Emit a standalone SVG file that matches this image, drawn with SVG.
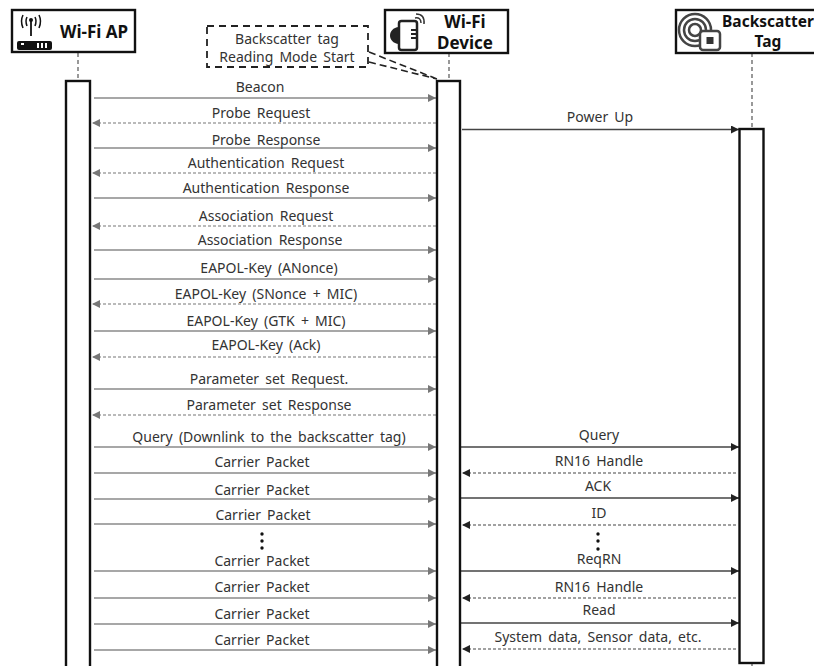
<svg xmlns="http://www.w3.org/2000/svg" width="814" height="666" viewBox="0 0 814 666">
<style>
text{font-family:"Noto Sans","Open Sans",sans-serif;fill:#333;font-size:14px;text-anchor:middle;word-spacing:2.5px}
.h{font-weight:700;font-size:17px;fill:#111;word-spacing:0}
.box{fill:#fff;stroke:#111;stroke-width:2.4}
.bar{fill:#fff;stroke:#111;stroke-width:2.4}
.life{stroke:#555;stroke-width:1.2;stroke-dasharray:4 3;fill:none}
.g{stroke:#8a8a8a;stroke-width:1.3;fill:none}
.gd{stroke:#777;stroke-width:1.2;stroke-dasharray:3 2;fill:none}
.k{stroke:#444;stroke-width:1.3;fill:none}
.kd{stroke:#444;stroke-width:1.2;stroke-dasharray:3 2;fill:none}
</style>
<defs>
<marker id="ag" markerUnits="userSpaceOnUse" markerWidth="9" markerHeight="8" refX="8" refY="4" orient="auto"><path d="M0 0L8 4L0 8Z" fill="#777"/></marker>
<marker id="ak" markerUnits="userSpaceOnUse" markerWidth="9" markerHeight="8" refX="8" refY="4" orient="auto"><path d="M0 0L8 4L0 8Z" fill="#222"/></marker>
</defs>
<rect width="814" height="666" fill="#fff"/>
<g id="connectors">
<path class="life" d="M78 53V81M449 53V81M752 53V129M752 663V666"/>
<g marker-end="url(#ag)">
<path class="g" d="M94 98H436"/><path class="gd" d="M436 123H92"/>
<path class="g" d="M94 148H436"/><path class="gd" d="M436 173H92"/>
<path class="g" d="M94 198H436"/><path class="gd" d="M436 226H92"/>
<path class="g" d="M94 250H436"/><path class="g" d="M94 279H436"/>
<path class="gd" d="M436 304H92"/><path class="g" d="M94 331H436"/>
<path class="gd" d="M436 357H92"/><path class="g" d="M94 389H436"/>
<path class="gd" d="M436 415H92"/><path class="g" d="M94 447H436"/>
<path class="g" d="M94 473H436"/><path class="g" d="M94 499H436"/>
<path class="g" d="M94 524H436"/><path class="g" d="M94 571H436"/>
<path class="g" d="M94 598H436"/><path class="g" d="M94 624H436"/>
<path class="g" d="M94 650H436"/>
</g>
<g marker-end="url(#ak)">
<path class="k" d="M462 129.500H739"/><path class="k" d="M461 447H739"/>
<path class="kd" d="M736 473H462"/><path class="k" d="M461 498H739"/>
<path class="kd" d="M736 525H462"/><path class="k" d="M461 571H739"/>
<path class="kd" d="M736 598H462"/><path class="k" d="M461 623H739"/>
<path class="kd" d="M736 649H462"/>
</g>
<path d="M369 52L437 79M369 62L437 79" fill="none" stroke="#222" stroke-width="1.600" stroke-dasharray="7 4"/>
</g>
<g id="bars">
<rect class="bar" x="66" y="81" width="24" height="590"/>
<rect class="bar" x="437" y="81" width="23" height="590"/>
<rect class="bar" x="739.500" y="129" width="24" height="534"/>
</g>
<g id="wifi-ap">
<rect class="box" x="12" y="10" width="123" height="42"/>
<path d="M31 20V36" stroke="#111" stroke-width="1.800"/><circle cx="31" cy="20" r="2" fill="#111"/>
<path d="M27 17Q25 21 27 26M35 17Q37 21 35 26M23 15Q20 21 23 28M39 15Q42 21 39 28" stroke="#111" stroke-width="1.500" fill="none"/>
<rect x="17" y="41" width="35" height="9" rx="2" fill="#111"/><path d="M21 44h3M38 43v5M42 43v5M46 43v5" stroke="#fff" stroke-width="2"/>
<text class="h" x="94" y="38">Wi-Fi AP</text>
</g>
<g id="note">
<rect x="207" y="26" width="161" height="41" fill="#fff" stroke="#222" stroke-width="1.800" stroke-dasharray="7 5"/>
<text x="287" y="44">Backscatter tag</text>
<text x="287" y="62">Reading Mode Start</text>
</g>
<g id="wifi-device">
<rect class="box" x="385" y="10" width="123" height="43"/>
<rect x="399" y="21" width="18" height="29" rx="2.500" fill="#fff" stroke="#222" stroke-width="2.500"/>
<path d="M399 27C387 28 387 43 399 44Z" fill="#222"/><path d="M411 30h7M411 34h7M411 38h7" stroke="#222" stroke-width="2"/>
<path d="M415 18Q421 17 421 23M416 14Q425 14 424 24" stroke="#333" stroke-width="1.500" fill="none"/>
<text class="h" x="465" y="28">Wi-Fi</text><text class="h" x="465" y="49">Device</text>
</g>
<g id="backscatter-tag">
<rect class="box" x="676" y="10" width="150" height="43"/>
<circle cx="695" cy="30" r="16" fill="none" stroke="#444" stroke-width="2.500"/><circle cx="695" cy="30" r="11" fill="none" stroke="#444" stroke-width="2.500"/><circle cx="695" cy="30" r="6" fill="none" stroke="#444" stroke-width="2.500"/>
<rect x="700" y="31" width="20" height="19" rx="3" fill="#fff" stroke="#444" stroke-width="2.500"/><rect x="706.500" y="37" width="7" height="7" fill="#333"/>
<text class="h" x="768" y="27" style="font-size:15.500px">Backscatter</text><text class="h" x="768" y="47" style="font-size:15.500px">Tag</text>
</g>
<g id="labels">
<text x="260" y="92">Beacon</text>
<text x="261" y="118">Probe Request</text>
<text x="266" y="145">Probe Response</text>
<text x="266" y="168">Authentication Request</text>
<text x="266" y="193">Authentication Response</text>
<text x="266" y="221">Association Request</text>
<text x="270" y="245">Association Response</text>
<text x="269" y="273">EAPOL-Key (ANonce)</text>
<text x="266" y="299">EAPOL-Key (SNonce + MIC)</text>
<text x="266" y="326">EAPOL-Key (GTK + MIC)</text>
<text x="266" y="350">EAPOL-Key (Ack)</text>
<text x="269" y="384">Parameter set Request.</text>
<text x="269" y="410">Parameter set Response</text>
<text x="269" y="442">Query (Downlink to the backscatter tag)</text>
<text x="262" y="467">Carrier Packet</text>
<text x="262" y="495">Carrier Packet</text>
<text x="263" y="520">Carrier Packet</text>
<text x="262" y="566">Carrier Packet</text>
<text x="262" y="592">Carrier Packet</text>
<text x="262" y="619">Carrier Packet</text>
<text x="262" y="645">Carrier Packet</text>
<text x="600" y="122">Power Up</text>
<text x="599" y="440">Query</text>
<text x="599" y="466">RN16 Handle</text>
<text x="598" y="491">ACK</text>
<text x="599" y="518">ID</text>
<text x="599" y="564">ReqRN</text>
<text x="599" y="592">RN16 Handle</text>
<text x="599" y="615">Read</text>
<text x="598" y="642">System data, Sensor data, etc.</text>
<circle cx="262" cy="534" r="1.700" fill="#111"/><circle cx="262" cy="541" r="1.700" fill="#111"/><circle cx="262" cy="548" r="1.700" fill="#111"/>
<circle cx="598" cy="534" r="1.700" fill="#111"/><circle cx="598" cy="541" r="1.700" fill="#111"/><circle cx="598" cy="549" r="1.700" fill="#111"/>
</g>
</svg>
